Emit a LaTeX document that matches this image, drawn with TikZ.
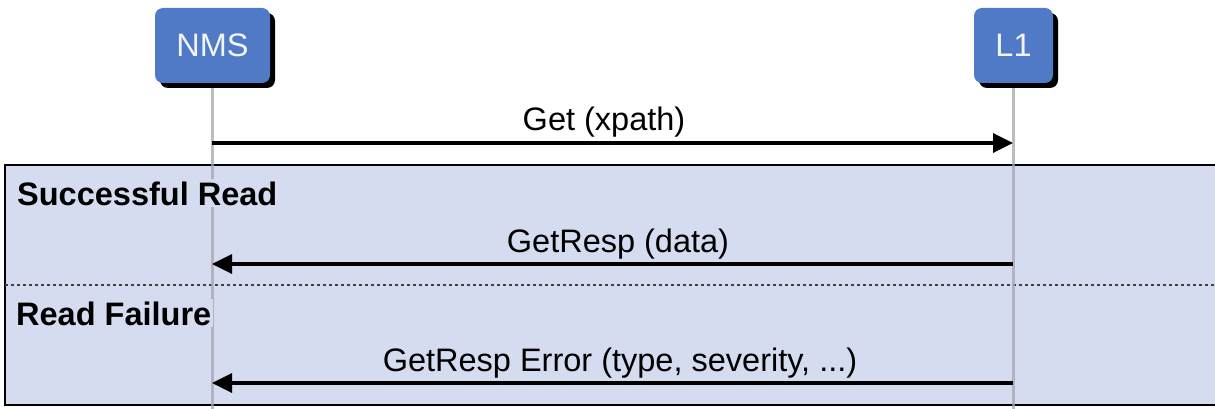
\documentclass[tikz,border=0pt]{standalone}
\usepackage{fontspec}
\setmainfont{Liberation Sans}
\usetikzlibrary{arrows.meta,shadows}
\definecolor{actorblue}{HTML}{5079C6}
\definecolor{fragfill}{HTML}{D6DCF0}
\definecolor{lifegray}{HTML}{A6A6AE}
\tikzset{
  actor/.style={rounded corners=8pt, fill=actorblue, text=white!92!actorblue,
    font=\fontsize{32.5}{38}\selectfont, minimum height=75pt, inner sep=0pt,
    drop shadow={shadow xshift=5pt, shadow yshift=-5pt, fill=black, opacity=1}},
  lifeline/.style={draw=lifegray, line width=3pt, opacity=0.75},
  msgarrow/.style={draw=black, line width=3.5pt, -{Triangle[length=20pt,width=19pt]}},
  msglabel/.style={anchor=base, inner sep=0pt, font=\fontsize{32.5}{38}\selectfont},
  fraglabel/.style={anchor=base west, inner sep=2pt, fill=fragfill,
    font=\fontsize{32.5}{38}\selectfont\bfseries},
  fragframe/.style={draw=black, line width=1.5pt, fill=fragfill},
  guardline/.style={draw=black!75, line width=1.2pt, dash pattern=on 3pt off 3pt}
}
\begin{document}
\begin{tikzpicture}[x=1pt,y=-1pt]
\useasboundingbox (0,0) rectangle (1215,409);
\clip (0,0) rectangle (1215,409);

% combined fragment (alt) with its two operands
\draw[fragframe] (5,165) rectangle (1240,405);
\draw[guardline] (5,285) -- (1240,285);

% participants
\coordinate (nmsTop) at (212,83);
\coordinate (nmsEnd) at (212,412);
\coordinate (l1Top) at (1013,83);
\coordinate (l1End) at (1013,412);
\draw[lifeline] (nmsTop) -- (nmsEnd);
\draw[lifeline] (l1Top) -- (l1End);
\node[actor, minimum width=115pt] (nms) at (212.5,45.5) {NMS};
\node[actor, minimum width=79pt] (l1) at (1013.5,45.5) {L1};

% operand guards
\node[fraglabel] (okGuard) at (15,205) {Successful Read};
\node[fraglabel] (failGuard) at (14,325) {Read Failure};

% messages
\coordinate (getFrom) at (212,143);
\coordinate (getTo) at (1013,143);
\coordinate (respFrom) at (1013,264);
\coordinate (respTo) at (212,264);
\coordinate (errFrom) at (1013,383);
\coordinate (errTo) at (212,383);

\draw[msgarrow] (getFrom) -- (getTo);
\node[msglabel] (getLbl) at (604,131) {Get (xpath)};

\draw[msgarrow] (respFrom) -- (respTo);
\node[msglabel] (respLbl) at (618,252) {GetResp (data)};

\draw[msgarrow] (errFrom) -- (errTo);
\node[msglabel] (errLbl) at (620,371) {GetResp Error (type, severity, ...)};
\end{tikzpicture}
\end{document}
